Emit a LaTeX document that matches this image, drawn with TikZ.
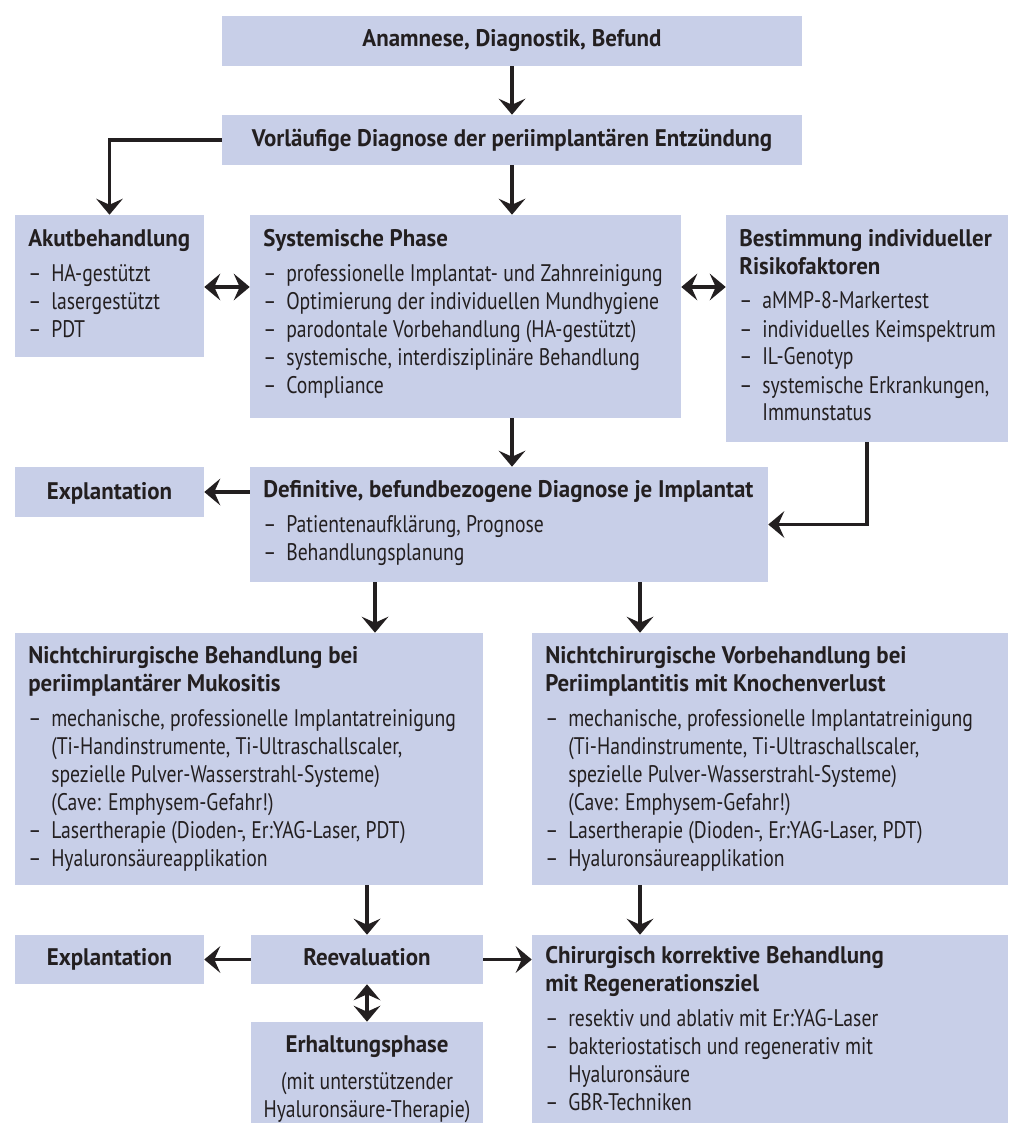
\documentclass[tikz,border=0pt]{standalone}
\usepackage{fontspec}
\setmainfont[FakeStretch=0.82, BoldFeatures={FakeStretch=0.955}]{PT Sans}
\usetikzlibrary{arrows.meta,fit}
\definecolor{ink}{HTML}{231F20}
\definecolor{boxfill}{HTML}{C8CFE8}
\newcommand\itm[1]{\makebox[17.25pt][l]{–}#1}
\newcommand\cnt[1]{\hspace*{17.25pt}#1}
\tikzset{
  box/.style={fill=boxfill, draw=none, inner sep=0pt},
  tblock/.style={font=\fontsize{18}{21}\selectfont, text=ink, inner sep=0pt, anchor=base west},
  cblock/.style={font=\fontsize{18}{21}\selectfont\bfseries, text=ink, inner sep=0pt, anchor=base},
  arr/.style={-{Stealth[length=12pt,width=20pt,inset=4.5pt]}, line width=2.3pt, draw=ink},
  darr/.style={{Stealth[length=12pt,width=20pt,inset=4.5pt]}-{Stealth[length=12pt,width=20pt,inset=4.5pt]}, line width=2.3pt, draw=ink},
}
\begin{document}
\begin{tikzpicture}[x=0.75pt,y=-0.75pt]
\useasboundingbox (0,0) rectangle (1021,1123);
% boxes
\node[box, fit={(222,16) (802,66)}] (b1) {};
\node[box, fit={(222,115) (802,165)}] (b2) {};
\node[box, fit={(15,215) (204,357)}] (akut) {};
\node[box, fit={(250,215) (681,418)}] (sys) {};
\node[box, fit={(726,215) (1008,442)}] (best) {};
\node[box, fit={(15,467) (204,517)}] (expl1) {};
\node[box, fit={(250,467) (768,582)}] (def) {};
\node[box, fit={(15,633) (483,885)}] (nicht1) {};
\node[box, fit={(532,633) (1008,885)}] (nicht2) {};
\node[box, fit={(15,935) (204,984)}] (expl2) {};
\node[box, fit={(251,935) (483,984)}] (reeval) {};
\node[box, fit={(251,1022) (483,1123)}] (erh) {};
\node[box, fit={(532,935) (1008,1123)}] (chir) {};
% texts
\node[cblock] (t1) at (512,47) {Anamnese, Diagnostik, Befund};
\node[cblock] (t2) at (512,147) {Vorläufige Diagnose der periimplantären Entzündung};
\node[cblock] (tex1) at (109.5,499) {Explantation};
\node[cblock] (tex2) at (109.5,965) {Explantation};
\node[cblock] (tre) at (367,965) {Reevaluation};
\node[tblock] (takut) at (28,246) {\begin{tabular}[t]{@{}l@{}}
\textbf{Akutbehandlung}\\[5.25pt]
\itm{HA-gestützt}\\
\itm{lasergestützt}\\
\itm{PDT}
\end{tabular}};
\node[tblock] (tsys) at (263,246) {\begin{tabular}[t]{@{}l@{}}
\textbf{Systemische Phase}\\[5.25pt]
\itm{professionelle Implantat- und Zahnreinigung}\\
\itm{Optimierung der individuellen Mundhygiene}\\
\itm{parodontale Vorbehandlung (HA-gestützt)}\\
\itm{systemische, interdisziplinäre Behandlung}\\
\itm{Compliance}
\end{tabular}};
\node[tblock] (tbest) at (739,246) {\begin{tabular}[t]{@{}l@{}}
\textbf{Bestimmung individueller}\\
\textbf{Risikofaktoren}\\[5.25pt]
\itm{aMMP-8-Markertest}\\
\itm{individuelles Keimspektrum}\\
\itm{IL-Genotyp}\\
\itm{systemische Erkrankungen,}\\
\cnt{Immunstatus}
\end{tabular}};
\node[tblock] (tdef) at (263,497) {\begin{tabular}[t]{@{}l@{}}
\textbf{Definitive, befundbezogene Diagnose je Implantat}\\[5.25pt]
\itm{Patientenaufklärung, Prognose}\\
\itm{Behandlungsplanung}
\end{tabular}};
\node[tblock] (tn1) at (28,663) {\begin{tabular}[t]{@{}l@{}}
\textbf{Nichtchirurgische Behandlung bei}\\
\textbf{periimplantärer Mukositis}\\[5.25pt]
\itm{mechanische, professionelle Implantatreinigung}\\
\cnt{(Ti-Handinstrumente, Ti-Ultraschallscaler,}\\
\cnt{spezielle Pulver-Wasserstrahl-Systeme)}\\
\cnt{(Cave: Emphysem-Gefahr!)}\\
\itm{Lasertherapie (Dioden-, Er:YAG-Laser, PDT)}\\
\itm{Hyaluronsäureapplikation}
\end{tabular}};
\node[tblock] (tn2) at (545,663) {\begin{tabular}[t]{@{}l@{}}
\textbf{Nichtchirurgische Vorbehandlung bei}\\
\textbf{Periimplantitis mit Knochenverlust}\\[5.25pt]
\itm{mechanische, professionelle Implantatreinigung}\\
\cnt{(Ti-Handinstrumente, Ti-Ultraschallscaler,}\\
\cnt{spezielle Pulver-Wasserstrahl-Systeme)}\\
\cnt{(Cave: Emphysem-Gefahr!)}\\
\itm{Lasertherapie (Dioden-, Er:YAG-Laser, PDT)}\\
\itm{Hyaluronsäureapplikation}
\end{tabular}};
\node[tblock] (tchir) at (545,963) {\begin{tabular}[t]{@{}l@{}}
\textbf{Chirurgisch korrektive Behandlung}\\
\textbf{mit Regenerationsziel}\\[5.25pt]
\itm{resektiv und ablativ mit Er:YAG-Laser}\\
\itm{bakteriostatisch und regenerativ mit}\\
\cnt{Hyaluronsäure}\\
\itm{GBR-Techniken}
\end{tabular}};
\node[tblock, anchor=base] (terh) at (367,1052) {\begin{tabular}[t]{@{}c@{}}
\textbf{Erhaltungsphase}\\[6.75pt]
(mit unterstützender\\
Hyaluronsäure-Therapie)
\end{tabular}};
% helper coordinates
\coordinate (yA) at (0,287);
\coordinate (xA) at (375,0);
\coordinate (xB) at (640,0);
% connectors
\draw[arr] (b1.south) -- (b2.north);
\draw[arr] (b2.west) -| (akut.north);
\draw[arr] (b2.south) -- (b2.south |- sys.north);
\draw[darr] (akut.east |- yA) -- (sys.west |- yA);
\draw[darr] (sys.east |- yA) -- (best.west |- yA);
\draw[arr] (b2.south |- sys.south) -- (b2.south |- def.north);
\draw[arr] (expl1.east -| def.west) -- (expl1.east);
\draw[arr] (best.south) |- (def.east);
\draw[arr] (def.south -| xA) -- (nicht1.north -| xA);
\draw[arr] (def.south -| xB) -- (nicht2.north -| xB);
\draw[arr] (reeval.north |- nicht1.south) -- (reeval.north);
\draw[arr] (nicht2.south -| xB) -- (chir.north -| xB);
\draw[arr] (reeval.west) -- (expl2.east);
\draw[arr] (reeval.east) -- (reeval.east -| chir.west);
\draw[darr] (reeval.south) -- (erh.north);
\end{tikzpicture}
\end{document}
